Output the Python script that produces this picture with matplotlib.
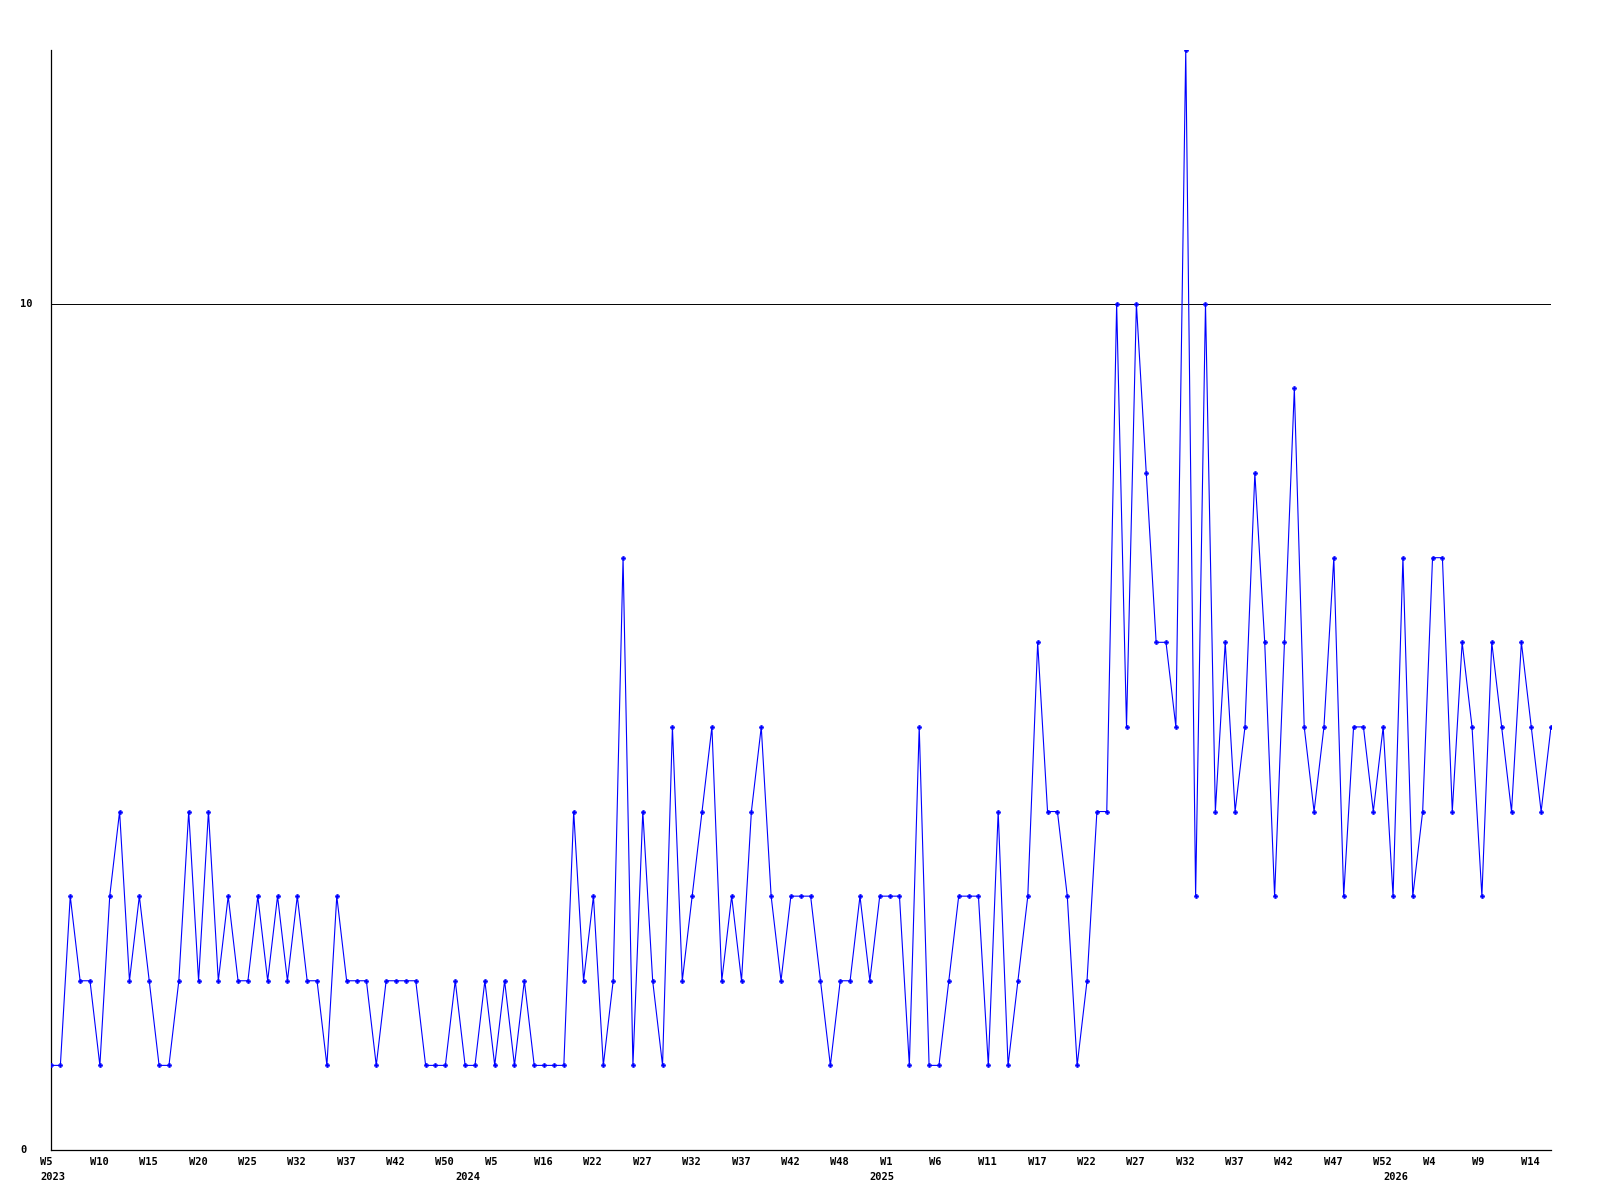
import matplotlib
matplotlib.use("Agg")
import matplotlib.pyplot as plt
import matplotlib.transforms as mtransforms

# weekly counts, one value per data point (some weeks are missing in the source)
counts = [
    1, 1, 3, 2, 2, 1, 3, 4, 2, 3,
    2, 1, 1, 2, 4, 2, 4, 2, 3, 2,
    2, 3, 2, 3, 2, 3, 2, 2, 1, 3,
    2, 2, 2, 1, 2, 2, 2, 2, 1, 1,
    1, 2, 1, 1, 2, 1, 2, 1, 2, 1,
    1, 1, 1, 4, 2, 3, 1, 2, 7, 1,
    4, 2, 1, 5, 2, 3, 4, 5, 2, 3,
    2, 4, 5, 3, 2, 3, 3, 3, 2, 1,
    2, 2, 3, 2, 3, 3, 3, 1, 5, 1,
    1, 2, 3, 3, 3, 1, 4, 1, 2, 3,
    6, 4, 4, 3, 1, 2, 4, 4, 10, 5,
    10, 8, 6, 6, 5, 13, 3, 10, 4, 6,
    4, 5, 8, 6, 3, 6, 9, 5, 4, 5,
    7, 3, 5, 5, 4, 5, 3, 7, 3, 4,
    7, 7, 4, 6, 5, 3, 6, 5, 4, 6,
    5, 4, 5,
]

# every 5th point gets a week label
week_labels = [
    "W5", "W10", "W15", "W20", "W25", "W32", "W37", "W42", "W50",
    "W5", "W16", "W22", "W27", "W32", "W37", "W42", "W48",
    "W1", "W6", "W11", "W17", "W22", "W27", "W32", "W37", "W42", "W47", "W52",
    "W4", "W9", "W14",
]
years = ["2023", "2024", "2025", "2026"]
year_positions = [0, 42, 84, 136]

y_ticks = [0, 10]

fig = plt.figure(figsize=(16, 12), dpi=100)
ax = fig.add_axes([50.5 / 1600, 50 / 1200, (1551 - 50.5) / 1600, 1100 / 1200])

x = list(range(len(counts)))
ax.plot(x, counts, color="#0000ff", linewidth=0.8, marker="P", markersize=3.2,
        markerfacecolor="#0000ff", markeredgecolor="#0000ff",
        markeredgewidth=0.3, zorder=3)

ax.set_xlim(0, len(counts) - 1)
ax.set_ylim(0, 13)

for s in ["top", "right"]:
    ax.spines[s].set_visible(False)
for s in ["left", "bottom"]:
    ax.spines[s].set_color("black")
    ax.spines[s].set_linewidth(0.9)

ax.axhline(10, color="black", linewidth=0.7, zorder=1)

ax.set_xticks([])
ax.set_yticks([])

font = dict(family="DejaVu Sans Mono", fontweight="bold", fontsize=7.5, color="black")

# y labels, left aligned near the figure edge
ytrans = mtransforms.blended_transform_factory(fig.transFigure, ax.transData)
for v in y_ticks:
    ax.text(20 / 1600, v, str(v), transform=ytrans, ha="left", va="center", **font)

# x labels, left aligned slightly before their point
base = mtransforms.blended_transform_factory(ax.transData, ax.transAxes)
wtrans = mtransforms.offset_copy(base, fig=fig, x=-10, y=-12, units="dots")
ytrans2 = mtransforms.offset_copy(base, fig=fig, x=-10, y=-27, units="dots")
for i, lab in enumerate(week_labels):
    ax.text(i * 5, 0, lab, transform=wtrans, ha="left", va="center", **font)
for pos, yr in zip(year_positions, years):
    ax.text(pos, 0, yr, transform=ytrans2, ha="left", va="center", **font)

fig.savefig("out.png", dpi=100)
